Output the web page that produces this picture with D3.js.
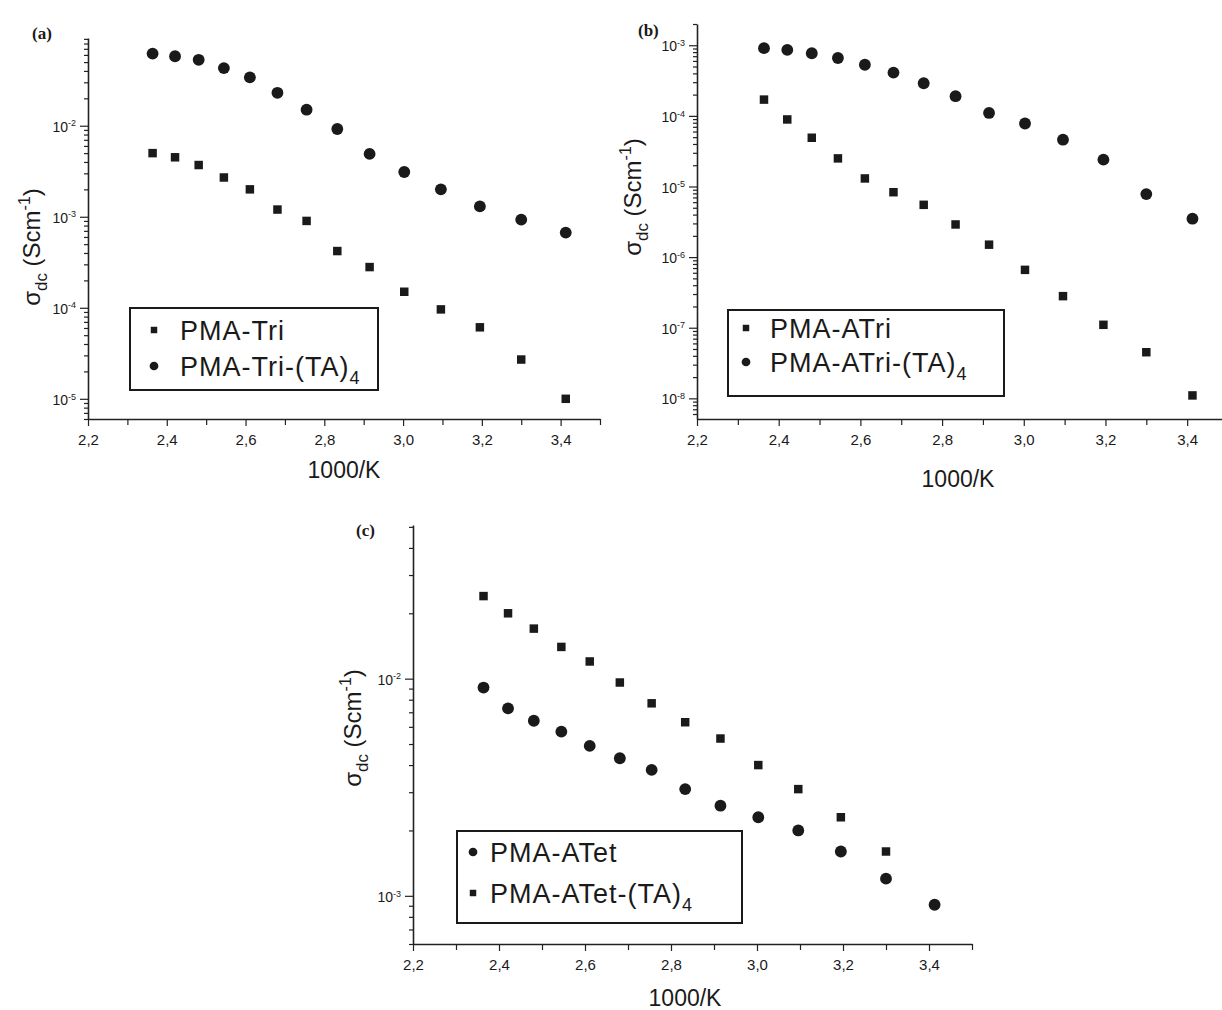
<!DOCTYPE html>
<html>
<head>
<meta charset="utf-8">
<script src="https://cdn.jsdelivr.net/npm/d3@7"></script>
<style>
  body { margin: 0; background: #fff; }
  svg { display: block; overflow: hidden; }
  text { font-family: "Liberation Sans", Arial, sans-serif; fill: #1a1a1a; }
</style>
</head>
<body>
<svg id="fig" width="1222" height="1010"></svg>
<script>
// 1000/K values (same temperature set in all three panels)
const invT = [2.364, 2.421, 2.481, 2.545, 2.611, 2.681, 2.755, 2.833, 2.915, 3.003, 3.096, 3.195, 3.300, 3.413];
const xTicks = [2.2, 2.4, 2.6, 2.8, 3.0, 3.2, 3.4];

// panel (a)
const pmaTri = [5.0e-3, 4.5e-3, 3.7e-3, 2.7e-3, 2.0e-3, 1.2e-3, 9.0e-4, 4.2e-4, 2.8e-4, 1.5e-4, 9.6e-5, 6.1e-5, 2.7e-5, 1.0e-5];
const pmaTriTA = [6.2e-2, 5.8e-2, 5.3e-2, 4.3e-2, 3.4e-2, 2.3e-2, 1.5e-2, 9.2e-3, 4.9e-3, 3.1e-3, 2.0e-3, 1.3e-3, 9.3e-4, 6.7e-4];
const yTicksA = [1e-5, 1e-4, 1e-3, 1e-2];

// panel (b)
const pmaATri = [1.7e-4, 8.9e-5, 4.9e-5, 2.5e-5, 1.3e-5, 8.3e-6, 5.5e-6, 2.9e-6, 1.5e-6, 6.6e-7, 2.8e-7, 1.1e-7, 4.5e-8, 1.1e-8];
const pmaATriTA = [9.1e-4, 8.6e-4, 7.7e-4, 6.6e-4, 5.3e-4, 4.1e-4, 2.9e-4, 1.9e-4, 1.1e-4, 7.8e-5, 4.6e-5, 2.4e-5, 7.8e-6, 3.5e-6];
const yTicksB = [1e-8, 1e-7, 1e-6, 1e-5, 1e-4, 1e-3];

// panel (c)
const pmaATet = [9.1e-3, 7.3e-3, 6.4e-3, 5.7e-3, 4.9e-3, 4.3e-3, 3.8e-3, 3.1e-3, 2.6e-3, 2.3e-3, 2.0e-3, 1.6e-3, 1.2e-3, 9.1e-4];
const pmaATetTA = [2.4e-2, 2.0e-2, 1.7e-2, 1.4e-2, 1.2e-2, 9.6e-3, 7.7e-3, 6.3e-3, 5.3e-3, 4.0e-3, 3.1e-3, 2.3e-3, 1.6e-3];
const yTicksC = [1e-3, 1e-2];

const ink = '#1a1a1a';
const svg = d3.select('#fig');

const symSquare = d3.symbol().type(d3.symbolSquare);
const symCircle = d3.symbol().type(d3.symbolCircle);

function marker(g, type, x, y, size) {
    g.append('path')
        .attr('d', (type === 'square' ? symSquare : symCircle).size(size)())
        .attr('transform', `translate(${x},${y})`)
        .attr('fill', ink);
}

function drawPanel(p) {
    const g = svg.append('g');

    const x = d3.scaleLinear().domain([2.2, 3.5]).range([p.x0, p.x1]);
    const y = d3.scaleLog().domain(p.yDomain).range([p.yBot, p.yTop]);

    // x axis: labelled major ticks + minor ticks
    const minorX = d3.range(2.3, 3.55, 0.2).map(v => +v.toFixed(1));
    g.append('g')
        .attr('transform', `translate(0,${p.yBot})`)
        .call(d3.axisBottom(x).tickValues(minorX).tickFormat('').tickSize(6).tickSizeOuter(0))
        .call(a => a.select('.domain').remove());
    const ax = g.append('g')
        .attr('transform', `translate(0,${p.yBot})`)
        .call(d3.axisBottom(x).tickValues(xTicks).tickSize(7).tickSizeOuter(0)
            .tickFormat(d => d.toFixed(1).replace('.', ',')));
    ax.selectAll('text').attr('dy', '1.05em').style('font-size', '15px').attr('fill', '#2a2a2a');

    // y axis: log, powers of ten labelled, minor ticks unlabelled
    const minorY = y.ticks().filter(v => !p.yTicks.includes(v));
    g.append('g')
        .attr('transform', `translate(${p.x0},0)`)
        .call(d3.axisLeft(y).tickValues(minorY).tickFormat('').tickSize(4).tickSizeOuter(0))
        .call(a => a.select('.domain').remove());
    const ay = g.append('g')
        .attr('transform', `translate(${p.x0},0)`)
        .call(d3.axisLeft(y).tickValues(p.yTicks).tickFormat('').tickSize(8).tickSizeOuter(0));
    ay.selectAll('.tick').each(function (d) {
        const t = d3.select(this).append('text')
            .attr('x', -12).attr('dy', '0.4em')
            .attr('text-anchor', 'end')
            .style('font-size', '14px').attr('fill', '#2a2a2a');
        t.append('tspan').text('10');
        t.append('tspan').attr('dy', '-0.6em').style('font-size', '9px')
            .text('-' + Math.round(-Math.log10(d)));
    });

    [ax, ay].forEach(a => {
        a.selectAll('path, line').attr('stroke', '#222');
        a.select('.domain').attr('stroke-width', 1.6);
    });
    g.selectAll('.tick line').attr('stroke', '#222').attr('stroke-width', 1.2);

    // axis titles
    g.append('text')
        .attr('x', p.xTitleX).attr('y', p.xTitleY)
        .attr('text-anchor', 'middle')
        .style('font-size', '23px')
        .text('1000/K');

    const yt = g.append('text')
        .attr('transform', `translate(${p.yTitleX},${p.yTitleY}) rotate(-90)`)
        .attr('text-anchor', 'middle')
        .style('font-size', '24px');
    yt.append('tspan').text('σ');
    yt.append('tspan').attr('dy', 7).style('font-size', '17px').text('dc');
    yt.append('tspan').attr('dy', -7).text(' (Scm');
    yt.append('tspan').attr('dy', -10).style('font-size', '16px').text('-1');
    yt.append('tspan').attr('dy', 10).text(')');

    // panel letter
    g.append('text')
        .attr('x', p.labelX).attr('y', p.labelY)
        .style('font-family', '"Liberation Serif", "Times New Roman", serif')
        .style('font-weight', 'bold').style('font-size', '17px')
        .text(p.label);

    // data points
    p.series.forEach(s => {
        s.values.forEach((v, i) => marker(g, s.type, x(invT[i]), y(v), s.type === 'square' ? 72 : 110));
    });

    // legend
    const L = p.legend;
    g.append('rect')
        .attr('x', L.x).attr('y', L.y).attr('width', L.w).attr('height', L.h)
        .attr('fill', 'none').attr('stroke', ink).attr('stroke-width', 2);
    p.series.forEach((s, i) => {
        const ry = L.rowY[i];
        marker(g, s.type, L.mx, ry, s.type === 'square' ? 42 : 60);
        const t = g.append('text')
            .attr('x', L.tx).attr('y', ry).attr('dy', '0.36em')
            .style('font-size', '27px').style('letter-spacing', '1px');
        t.append('tspan').text(s.name);
        if (s.sub) {
            t.append('tspan').attr('dy', 8).style('font-size', '18px').text(s.sub);
        }
    });
}

drawPanel({
    label: '(a)', labelX: 32, labelY: 39,
    x0: 88, x1: 600, yTop: 38, yBot: 419,
    yDomain: [6e-6, 0.092], yTicks: yTicksA,
    xTitleX: 344, xTitleY: 478, yTitleX: 40, yTitleY: 247,
    series: [
        { name: 'PMA-Tri', type: 'square', values: pmaTri },
        { name: 'PMA-Tri-(TA)', sub: '4', type: 'circle', values: pmaTriTA }
    ],
    legend: { x: 130, y: 308, w: 248, h: 82, mx: 154, tx: 180, rowY: [330, 366] }
});

drawPanel({
    label: '(b)', labelX: 638, labelY: 36,
    x0: 697, x1: 1228, yTop: 24, yBot: 419,
    yDomain: [5.1e-9, 2.0e-3], yTicks: yTicksB,
    xTitleX: 958, xTitleY: 487, yTitleX: 641, yTitleY: 197,
    series: [
        { name: 'PMA-ATri', type: 'square', values: pmaATri },
        { name: 'PMA-ATri-(TA)', sub: '4', type: 'circle', values: pmaATriTA }
    ],
    legend: { x: 728, y: 310, w: 276, h: 86, mx: 746, tx: 770, rowY: [328, 362] }
});

drawPanel({
    label: '(c)', labelX: 356, labelY: 536,
    x0: 413, x1: 972, yTop: 525, yBot: 944,
    yDomain: [6.0e-4, 0.051], yTicks: yTicksC,
    xTitleX: 685, xTitleY: 1006, yTitleX: 361, yTitleY: 728,
    series: [
        { name: 'PMA-ATet', type: 'circle', values: pmaATet },
        { name: 'PMA-ATet-(TA)', sub: '4', type: 'square', values: pmaATetTA }
    ],
    legend: { x: 457, y: 831, w: 285, h: 92, mx: 473, tx: 490, rowY: [852, 893] }
});
</script>
</body>
</html>
